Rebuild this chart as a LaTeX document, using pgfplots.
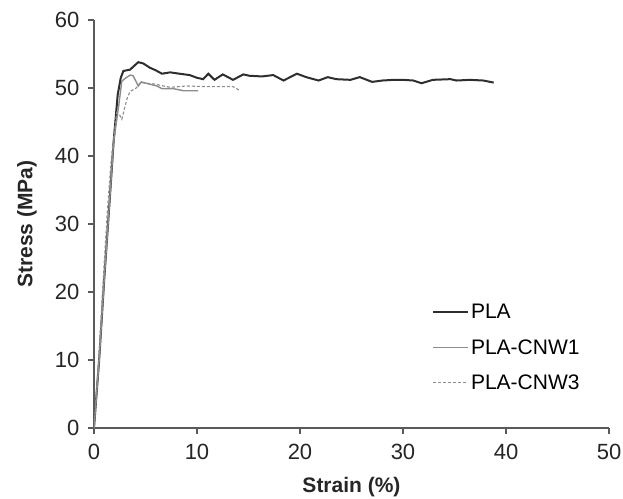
\documentclass[border=0pt]{standalone}
\usepackage{fontspec}
\setmainfont{Liberation Sans}
\usepackage{pgfplots}
\pgfplotsset{compat=1.18}
\definecolor{plablack}{HTML}{2E2E2E}
\definecolor{cnwgray}{HTML}{8C8C8C}
\definecolor{axisgray}{HTML}{5A5A5A}

\begin{document}
\begin{tikzpicture}
\begin{axis}[
    scale only axis,
    width=515pt, height=408pt,
    xmin=0, xmax=50, ymin=0, ymax=60,
    xtick={0,10,...,50}, ytick={0,10,...,60},
    axis x line*=bottom, axis y line*=left,
    axis line style={axisgray, line width=1.5pt},
    tick style={axisgray, line width=1.2pt},
    tick align=outside, major tick length=6pt,
    /pgf/number format/assume math mode=true,
    tick label style={font=\fontsize{22}{26}\selectfont, text=black!85},
    yticklabel style={xshift=-5pt},
    xticklabel style={yshift=-7pt},
    xlabel={Strain (\%)}, ylabel={Stress (MPa)},
    label style={font=\bfseries\fontsize{21}{25}\selectfont, text=black!85},
    xlabel style={at={(axis description cs:0.5,-0.145)}, anchor=center},
    ylabel style={at={(axis description cs:-0.13,0.5)}, anchor=center},
    legend style={draw=none, fill=none, at={(axis cs:32.8,18.5)}, anchor=north west,
      font=\fontsize{21}{25}\selectfont, row sep=15pt, inner sep=0pt,
      cells={anchor=west}},
    legend image code/.code={\draw[#1] (0pt,0pt) -- (35pt,0pt);},
]
% PLA
\addplot[plablack, line width=2pt] coordinates {
(0,0) (0.5,10) (1.0,22) (1.5,33) (1.9,42) (2.3,49) (2.6,51.5) (2.85,52.5)
(3.5,52.7) (4.3,53.8) (4.8,53.6) (5.4,53.0) (6.0,52.6) (6.6,52.1) (7.4,52.3)
(8.3,52.1) (9.3,51.9) (10.0,51.5) (10.6,51.3) (11.1,52.1) (11.7,51.2) (12.5,52.0)
(13.5,51.2) (14.5,52.0) (15.1,51.8) (16.3,51.7) (17.4,51.9) (18.4,51.1) (19.7,52.1)
(20.6,51.6) (21.8,51.1) (22.7,51.6) (23.5,51.3) (24.9,51.2) (25.8,51.6) (27.0,50.9)
(28.0,51.1) (29.1,51.2) (30.0,51.2) (31.0,51.1) (31.8,50.7) (32.9,51.2) (34.6,51.3)
(35.2,51.1) (36.5,51.2) (37.8,51.1) (38.8,50.8)
};
\addlegendentry{PLA}
% PLA-CNW1
\addplot[cnwgray, line width=1.4pt] coordinates {
(0,0) (0.5,10) (1.0,22) (1.5,33) (1.9,42) (2.4,47.4) (2.7,51.0) (3.1,51.5)
(3.5,51.9) (3.8,51.8) (4.3,50.3) (4.6,50.9) (5.3,50.6) (6.1,50.3) (6.6,49.9)
(7.7,49.9) (8.7,49.6) (10.1,49.6)
};
\addlegendentry{PLA-CNW1}
% PLA-CNW3
\addplot[cnwgray, line width=1.1pt, dash pattern=on 3pt off 2pt] coordinates {
(0,0) (0.45,10) (0.9,22) (1.3,32) (1.7,40) (2.2,46.4) (2.5,46.0) (2.7,45.4)
(3.2,48.4) (3.5,49.5) (4.1,50.0) (4.5,50.8) (5.8,50.6) (7.4,50.1) (9.0,50.3)
(10.9,50.2) (12.5,50.2) (13.5,50.2) (14.2,49.6)
};
\addlegendentry{PLA-CNW3}
\end{axis}
\pgfresetboundingbox
\path ([xshift=-94pt,yshift=-70pt]current axis.south west)
  rectangle ([xshift=14pt,yshift=20pt]current axis.north east);
\end{tikzpicture}
\end{document}
